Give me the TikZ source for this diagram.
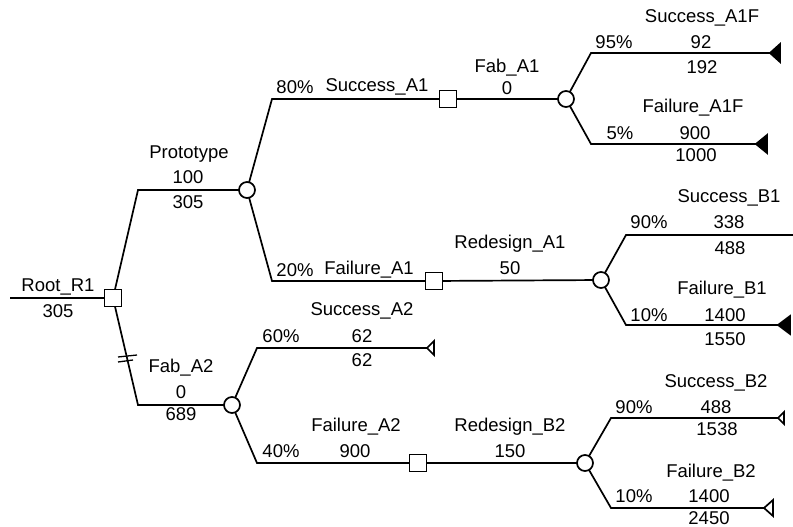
\documentclass[tikz,border=0pt]{standalone}
\usepackage{fontspec}
\setmainfont{Liberation Sans}
\usetikzlibrary{backgrounds}
\begin{document}
\begin{tikzpicture}[x=1pt,y=-1pt,
  ln/.style={line width=1.7pt},
  dec/.style={draw,ln,fill=white,minimum size=17pt,inner sep=0pt},
  chn/.style={draw,ln,circle,fill=white,minimum size=16pt,inner sep=0pt},
  lbl/.style={inner sep=0pt,font=\fontsize{18.5}{20}\selectfont},
  tipf/.style={ln,fill=black,line join=miter},
  tipo/.style={ln,fill=white,line join=miter}]
\useasboundingbox (0,0) rectangle (793,527);
% decision and chance nodes
\node[dec] (root) at (113,298) {};
\node[chn] (proto) at (247,190) {};
\node[chn] (fabA2) at (232,405) {};
\node[dec] (fabA1) at (448,99) {};
\node[dec] (redA1) at (434,281) {};
\node[chn] (cA1) at (566,99) {};
\node[chn] (cB1) at (601,280) {};
\node[dec] (redB2) at (418,463) {};
\node[chn] (cB2) at (585,463) {};
% corners and ends
\coordinate (start) at (10,298);
\coordinate (kP) at (138,190);
\coordinate (kF) at (138,405);
\coordinate (kSA1) at (272,99);
\coordinate (kFA1) at (272,281);
\coordinate (kSA1F) at (591,53);
\coordinate (kFA1F) at (591,144);
\coordinate (kSB1) at (626,235);
\coordinate (kFB1) at (626,325);
\coordinate (kSA2) at (257,348);
\coordinate (kFA2) at (257,463);
\coordinate (kSB2) at (611,418);
\coordinate (kFB2) at (611,508);
\coordinate (eSA1F) at (770,53);
\coordinate (eFA1F) at (756,144);
\coordinate (eSB1) at (793,235);
\coordinate (eFB1) at (778,325);
\coordinate (eSA2) at (427,348);
\coordinate (eSB2) at (778,418);
\coordinate (eFB2) at (764,508);
\begin{scope}[on background layer]
\draw[ln] (start) -- (root.center);
\draw[ln] (root.center) -- (kP) -- (proto.center);
\draw[ln] (root.center) -- (kF) -- (fabA2.center);
\draw[ln] (proto.center) -- (kSA1) -- (fabA1.center);
\draw[ln] (proto.center) -- (kFA1) -- (redA1.center);
\draw[ln] (fabA1.center) -- (cA1.center);
\draw[ln] (redA1.center) -- (cB1.center);
\draw[ln] (cA1.center) -- (kSA1F) -- (eSA1F);
\draw[ln] (cA1.center) -- (kFA1F) -- (eFA1F);
\draw[ln] (cB1.center) -- (kSB1) -- (eSB1);
\draw[ln] (cB1.center) -- (kFB1) -- (eFB1);
\draw[ln] (fabA2.center) -- (kSA2) -- (eSA2);
\draw[ln] (fabA2.center) -- (kFA2) -- (redB2.center);
\draw[ln] (redB2.center) -- (cB2.center);
\draw[ln] (cB2.center) -- (kSB2) -- (eSB2);
\draw[ln] (cB2.center) -- (kFB2) -- (eFB2);
\end{scope}
% hash marks on the Fab_A2 branch
\coordinate (h1) at (118,357);
\coordinate (h2) at (118,362);
\draw[line width=1.3pt] (h1) -- ++(19,-2);
\draw[line width=1.3pt] (h2) -- ++(15,-2);
% terminal triangles
\draw[tipf] (eSA1F) -- ++(10,-9) -- ++(0,18) -- cycle;
\draw[tipf] (eFA1F) -- ++(11,-9) -- ++(0,18) -- cycle;
\draw[tipf] (eFB1) -- ++(12,-9) -- ++(0,18) -- cycle;
\draw[tipo] (eSA2) -- ++(7,-7) -- ++(0,14) -- cycle;
\draw[tipo] (eSB2) -- ++(6,-6) -- ++(0,12) -- cycle;
\draw[tipo] (eFB2) -- ++(9,-8) -- ++(0,16) -- cycle;
% labels
\node[lbl] (tRoot) at (58,287) {Root\_R1};
\node[lbl] (vRoot) at (58,311) {305};
\node[lbl] (tProto) at (189,154) {Prototype};
\node[lbl] (cProto) at (188,177) {100};
\node[lbl] (vProto) at (188,202) {305};
\node[lbl] (tFabA2) at (181,368) {Fab\_A2};
\node[lbl] (cFabA2) at (181,392) {0};
\node[lbl] (vFabA2) at (181,414) {689};
\node[lbl] (p80) at (295,87) {80\%};
\node[lbl] (tSA1) at (377,87) {Success\_A1};
\node[lbl] (p20) at (295,270) {20\%};
\node[lbl] (tFA1) at (369,270) {Failure\_A1};
\node[lbl] (tFabA1) at (507,68) {Fab\_A1};
\node[lbl] (cFabA1) at (507,88) {0};
\node[lbl] (tRedA1) at (510,244) {Redesign\_A1};
\node[lbl] (cRedA1) at (510,268) {50};
\node[lbl] (p95) at (614,42) {95\%};
\node[lbl] (tSA1F) at (702,18) {Success\_A1F};
\node[lbl] (cSA1F) at (701,42) {92};
\node[lbl] (vSA1F) at (702,67) {192};
\node[lbl] (p5) at (620,133) {5\%};
\node[lbl] (tFA1F) at (693,108) {Failure\_A1F};
\node[lbl] (cFA1F) at (695,133) {900};
\node[lbl] (vFA1F) at (696,155) {1000};
\node[lbl] (p90a) at (649,222) {90\%};
\node[lbl] (tSB1) at (729,198) {Success\_B1};
\node[lbl] (cSB1) at (729,222) {338};
\node[lbl] (vSB1) at (730,248) {488};
\node[lbl] (p10a) at (649,315) {10\%};
\node[lbl] (tFB1) at (722,290) {Failure\_B1};
\node[lbl] (cFB1) at (725,315) {1400};
\node[lbl] (vFB1) at (725,339) {1550};
\node[lbl] (p60) at (281,336) {60\%};
\node[lbl] (tSA2) at (362,311) {Success\_A2};
\node[lbl] (cSA2) at (362,336) {62};
\node[lbl] (vSA2) at (362,360) {62};
\node[lbl] (p40) at (281,451) {40\%};
\node[lbl] (tFA2) at (356,427) {Failure\_A2};
\node[lbl] (cFA2) at (355,451) {900};
\node[lbl] (tRedB2) at (510,427) {Redesign\_B2};
\node[lbl] (cRedB2) at (510,451) {150};
\node[lbl] (p90b) at (634,407) {90\%};
\node[lbl] (tSB2) at (716,383) {Success\_B2};
\node[lbl] (cSB2) at (716,407) {488};
\node[lbl] (vSB2) at (717,429) {1538};
\node[lbl] (p10b) at (634,496) {10\%};
\node[lbl] (tFB2) at (711,473) {Failure\_B2};
\node[lbl] (cFB2) at (709,496) {1400};
\node[lbl] (vFB2) at (709,518) {2450};
\end{tikzpicture}
\end{document}
